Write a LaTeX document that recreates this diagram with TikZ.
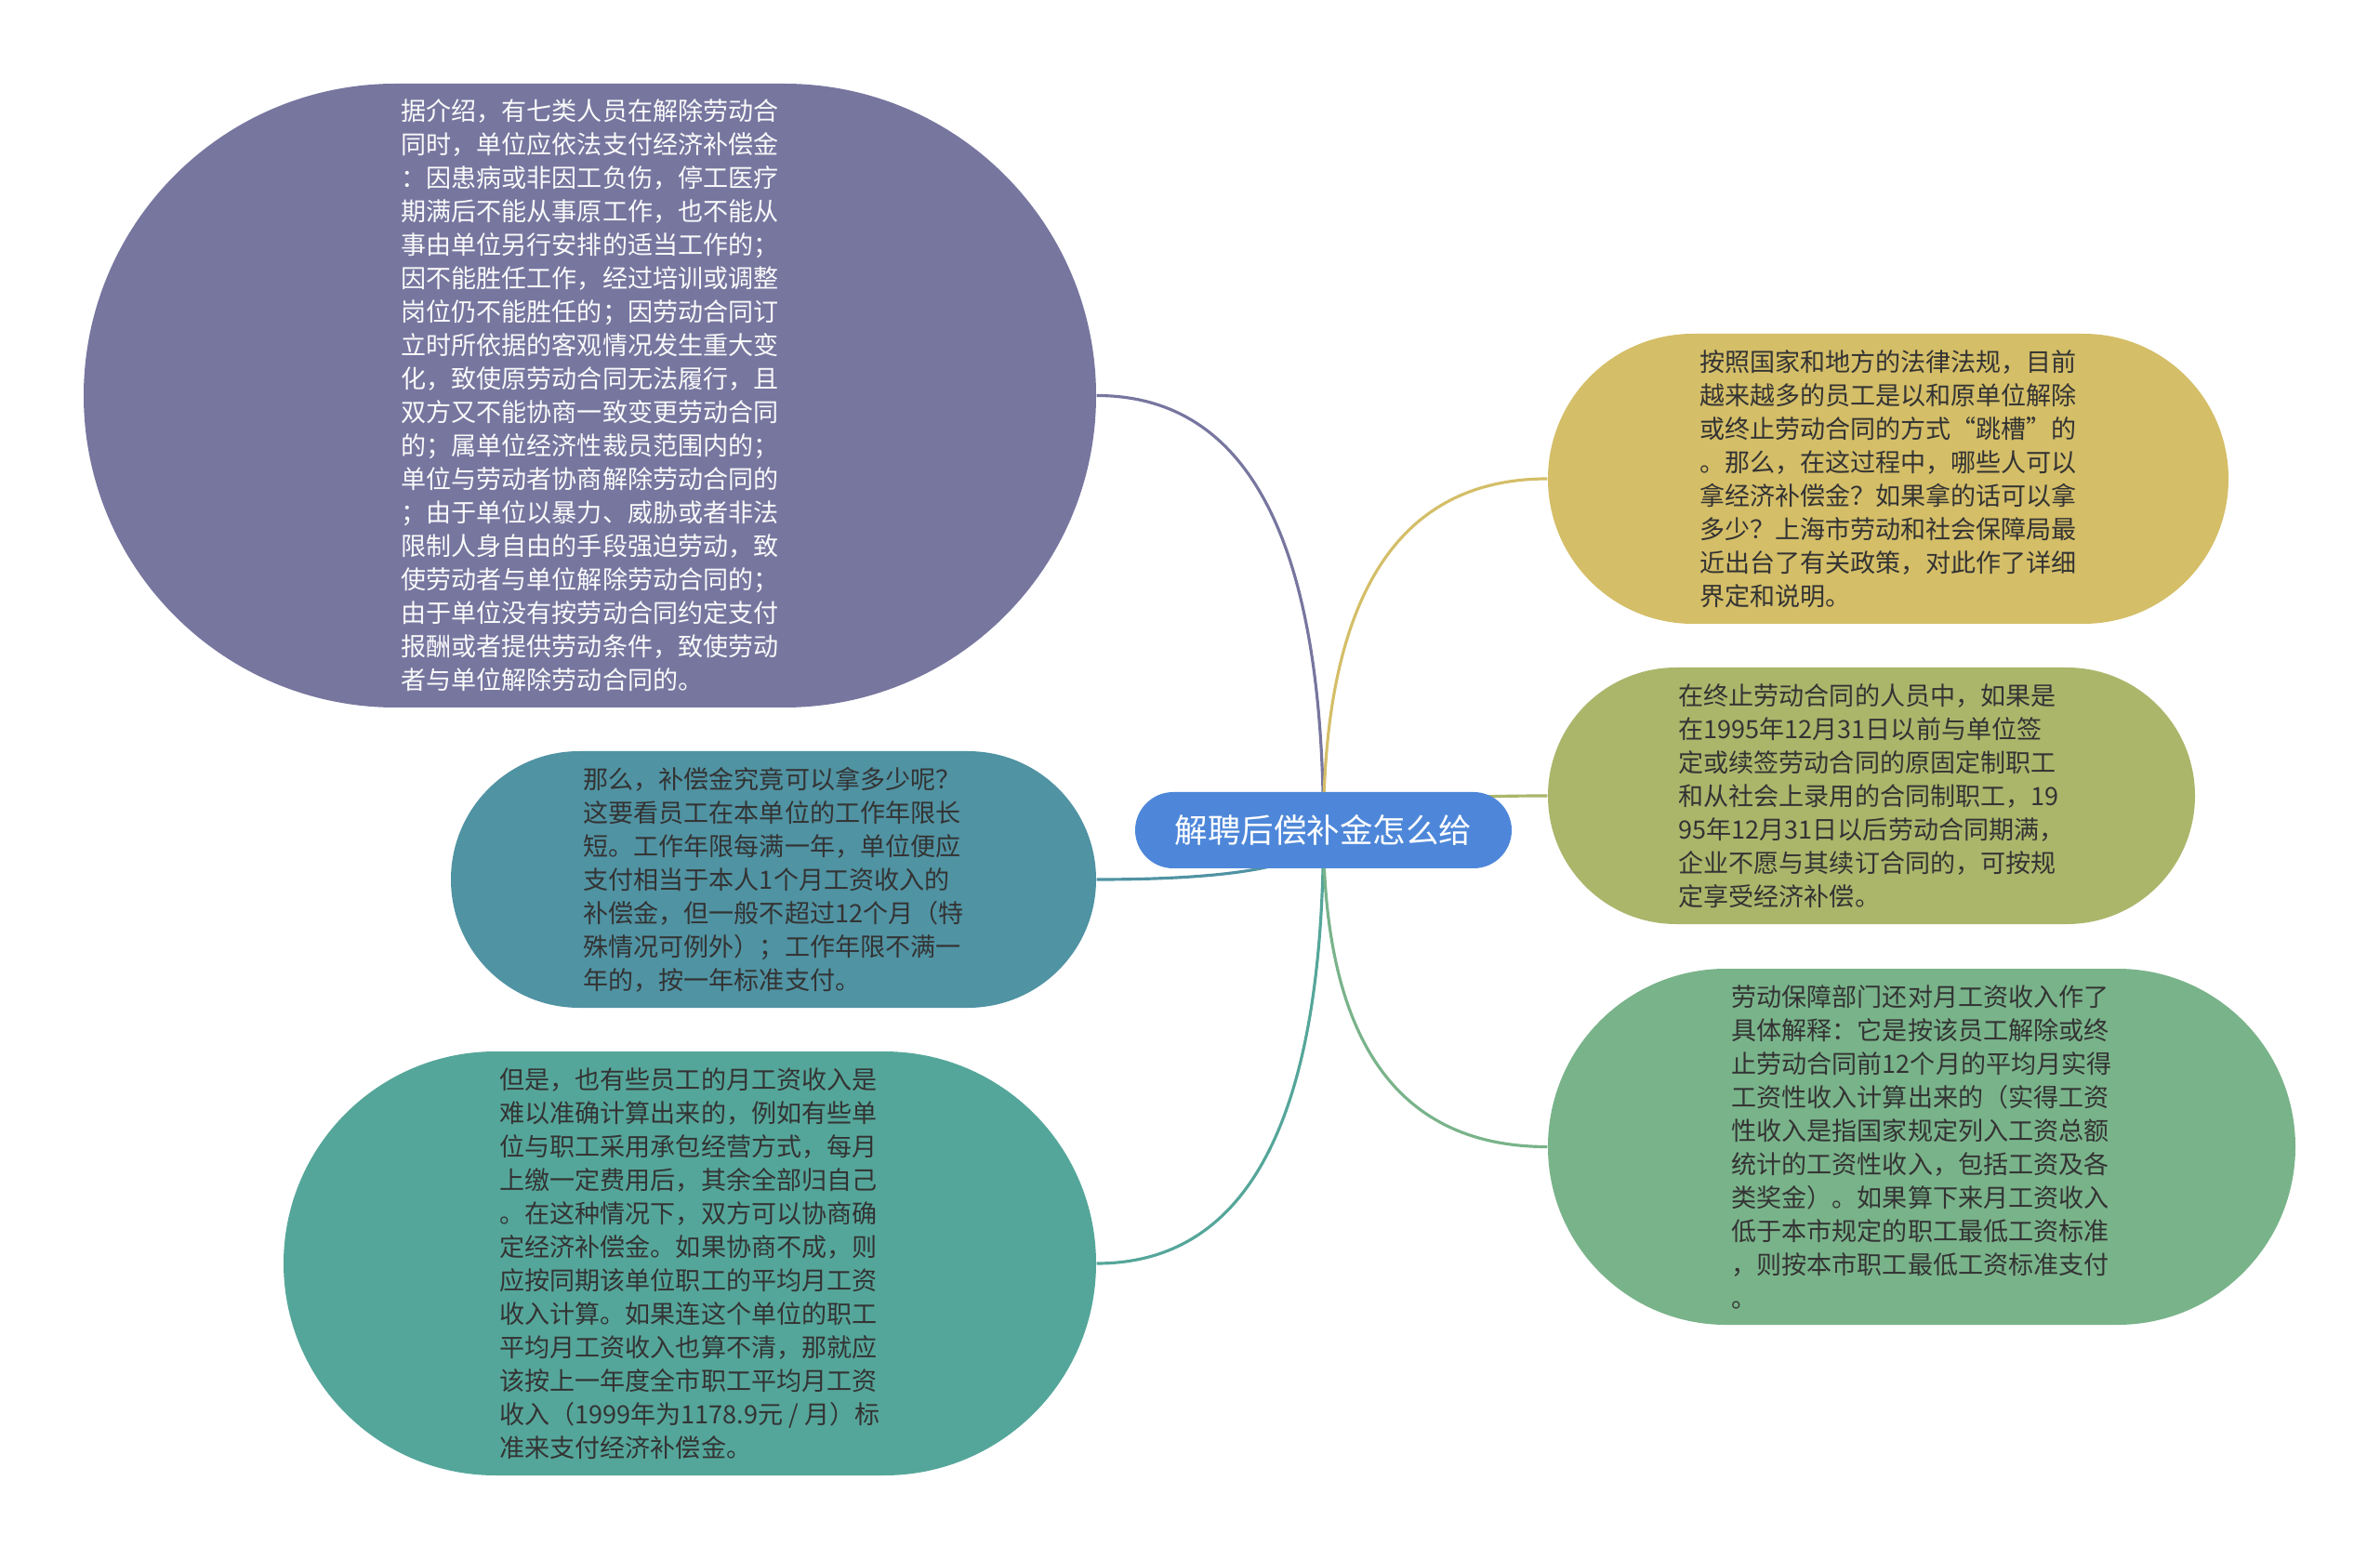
\documentclass[tikz,border=0pt]{standalone}
\usepackage{fontspec}
\setmainfont{Noto Sans CJK SC}
\usetikzlibrary{shapes.misc,backgrounds,calc}

\definecolor{rootblue}{HTML}{4E87D9}
\definecolor{lilac}{HTML}{77769F}
\definecolor{petrol}{HTML}{5093A3}
\definecolor{teal2}{HTML}{55A69A}
\definecolor{mustard}{HTML}{D4BE68}
\definecolor{olive2}{HTML}{ABB66B}
\definecolor{sage}{HTML}{79B38A}
\definecolor{leaftext}{HTML}{333333}

\tikzset{
  topic/.style={rounded rectangle, fill=rootblue, text=white, inner sep=0pt,
    minimum width=4.05cm, minimum height=0.82cm,
    font=\fontsize{10.1pt}{12pt}\selectfont},
  leaf/.style={rounded rectangle, inner sep=0pt, align=left, text=leaftext,
    font=\fontsize{7.7pt}{10.24pt}\selectfont},
  branch/.style={line width=0.9pt},
  elbow/.style={to path={.. controls ($(\tikztostart)!2/3!(\tikztotarget |- \tikztostart)$)
    and ($(\tikztotarget)!2/3!(\tikztotarget |- \tikztostart)$) .. (\tikztotarget)}}
}

\begin{document}
\begin{tikzpicture}[x=1cm, y=-1cm]
  \useasboundingbox (0,0) rectangle (25.6,16.78);

  \node[topic] (root) at (14.235,8.93) {解聘后偿补金怎么给};

  % left side
  \node[leaf, fill=lilac, text=white!96!lilac, minimum width=10.89cm, minimum height=6.71cm] (seven) at (6.345,4.255) {%
据介绍，有七类人员在解除劳动合\\
同时，单位应依法支付经济补偿金\\
：因患病或非因工负伤，停工医疗\\
期满后不能从事原工作，也不能从\\
事由单位另行安排的适当工作的；\\
因不能胜任工作，经过培训或调整\\
岗位仍不能胜任的；因劳动合同订\\
立时所依据的客观情况发生重大变\\
化，致使原劳动合同无法履行，且\\
双方又不能协商一致变更劳动合同\\
的；属单位经济性裁员范围内的；\\
单位与劳动者协商解除劳动合同的\\
；由于单位以暴力、威胁或者非法\\
限制人身自由的手段强迫劳动，致\\
使劳动者与单位解除劳动合同的；\\
由于单位没有按劳动合同约定支付\\
报酬或者提供劳动条件，致使劳动\\
者与单位解除劳动合同的。};

  \node[leaf, fill=petrol, minimum width=6.94cm, minimum height=2.76cm] (amount) at (8.32,9.46) {%
那么，补偿金究竟可以拿多少呢？\\
这要看员工在本单位的工作年限长\\
短。工作年限每满一年，单位便应\\
支付相当于本人1个月工资收入的\\
补偿金，但一般不超过12个月（特\\
殊情况可例外）；工作年限不满一\\
年的，按一年标准支付。};

  \node[leaf, fill=teal2, minimum width=8.74cm, minimum height=4.56cm] (hard) at (7.42,13.59) {%
但是，也有些员工的月工资收入是\\
难以准确计算出来的，例如有些单\\
位与职工采用承包经营方式，每月\\
上缴一定费用后，其余全部归自己\\
。在这种情况下，双方可以协商确\\
定经济补偿金。如果协商不成，则\\
应按同期该单位职工的平均月工资\\
收入计算。如果连这个单位的职工\\
平均月工资收入也算不清，那就应\\
该按上一年度全市职工平均月工资\\
收入（1999年为1178.9元 / 月）标\\
准来支付经济补偿金。};

  % right side
  \node[leaf, fill=mustard, minimum width=7.32cm, minimum height=3.12cm] (intro) at (20.31,5.15) {%
按照国家和地方的法律法规，目前\\
越来越多的员工是以和原单位解除\\
或终止劳动合同的方式“跳槽”的\\
。那么，在这过程中，哪些人可以\\
拿经济补偿金？如果拿的话可以拿\\
多少？上海市劳动和社会保障局最\\
近出台了有关政策，对此作了详细\\
界定和说明。};

  \node[leaf, fill=olive2, minimum width=6.96cm, minimum height=2.76cm] (expire) at (20.13,8.56) {%
在终止劳动合同的人员中，如果是\\
在1995年12月31日以前与单位签\\
定或续签劳动合同的原固定制职工\\
和从社会上录用的合同制职工，19\\
95年12月31日以后劳动合同期满，\\
企业不愿与其续订合同的，可按规\\
定享受经济补偿。};

  \node[leaf, fill=sage, minimum width=8.04cm, minimum height=3.83cm] (wage) at (20.67,12.335) {%
劳动保障部门还对月工资收入作了\\
具体解释：它是按该员工解除或终\\
止劳动合同前12个月的平均月实得\\
工资性收入计算出来的（实得工资\\
性收入是指国家规定列入工资总额\\
统计的工资性收入，包括工资及各\\
类奖金）。如果算下来月工资收入\\
低于本市规定的职工最低工资标准\\
，则按本市职工最低工资标准支付\\
。};

  \begin{scope}[on background layer]
    \draw[branch, lilac] (seven.east) to[elbow] (root.center);
    \draw[branch, petrol] (amount.east) to[elbow] (root.center);
    \draw[branch, teal2] (hard.east) to[elbow] (root.center);
    \draw[branch, mustard] (intro.west) to[elbow] (root.center);
    \draw[branch, olive2] (expire.west) to[elbow] (root.center);
    \draw[branch, sage] (wage.west) to[elbow] (root.center);
  \end{scope}
\end{tikzpicture}
\end{document}
